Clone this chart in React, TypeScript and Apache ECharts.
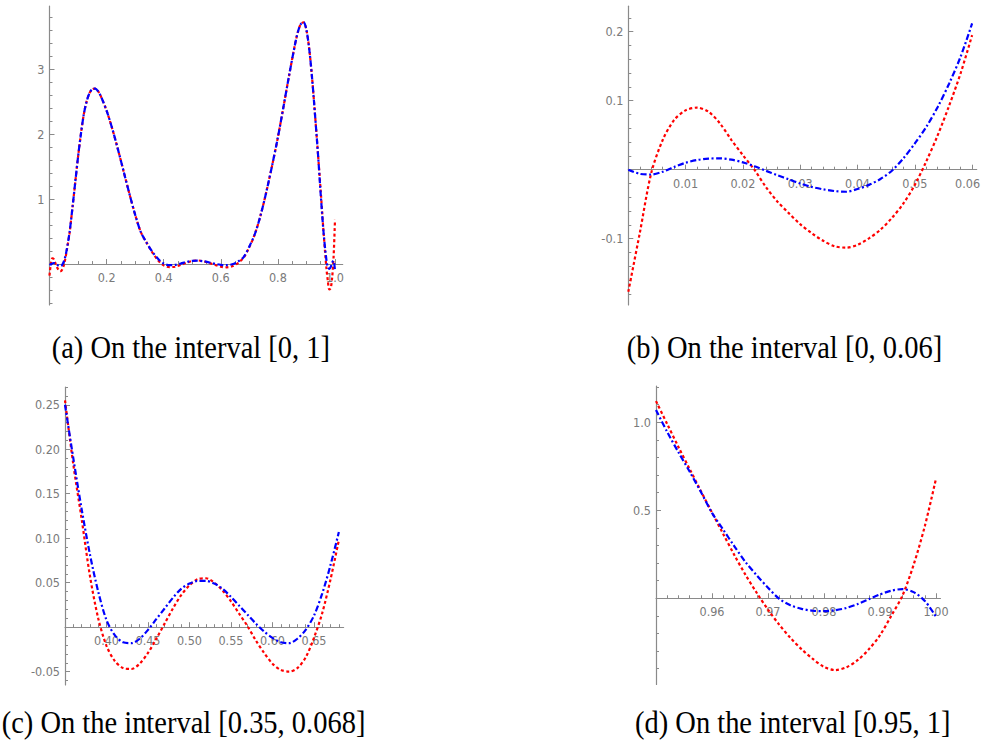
import React, { useEffect, useRef } from "react";
import * as echarts from "echarts";

// ---------- Panel (a): on [0, 1] ----------
const xA = [0, 0.005, 0.01, 0.015, 0.02, 0.025, 0.03, 0.035, 0.04, 0.045, 0.05, 0.055, 0.06, 0.07, 0.08, 0.09, 0.1, 0.11, 0.12, 0.13, 0.14, 0.15, 0.16, 0.17, 0.18, 0.2, 0.22, 0.24, 0.26, 0.28, 0.3, 0.32, 0.34, 0.36, 0.38, 0.4, 0.42, 0.44, 0.46, 0.48, 0.5, 0.52, 0.54, 0.56, 0.58, 0.6, 0.62, 0.64, 0.66, 0.68, 0.7, 0.72, 0.74, 0.76, 0.78, 0.8, 0.82, 0.84, 0.86, 0.87, 0.88, 0.89, 0.9, 0.91, 0.92, 0.93, 0.94, 0.95, 0.96, 0.97, 0.975, 0.98, 0.985, 0.99, 0.995, 1.0];
const redA = [-0.177, 0.01, 0.086, 0.076, 0.021, -0.036, -0.079, -0.106, -0.109, -0.079, -0.022, 0.072, 0.195, 0.47, 0.85, 1.25, 1.65, 2.0, 2.3, 2.5, 2.63, 2.69, 2.7, 2.66, 2.58, 2.36, 2.08, 1.76, 1.42, 1.08, 0.76, 0.49, 0.33, 0.18, 0.058, -0.021, -0.046, -0.041, -0.013, 0.021, 0.047, 0.055, 0.041, 0.015, -0.015, -0.041, -0.05, -0.034, 0.016, 0.098, 0.26, 0.47, 0.76, 1.12, 1.52, 1.95, 2.43, 2.92, 3.38, 3.57, 3.69, 3.72, 3.6, 3.3, 2.85, 2.3, 1.72, 1.12, 0.487, -0.065, -0.26, -0.39, -0.37, -0.21, 0.1, 0.68];
const blueA = [0, -0.007, 0.01, 0.016, 0.0106, -0.005, -0.02, -0.03, -0.028, -0.008, 0.038, 0.108, 0.212, 0.48, 0.85, 1.25, 1.65, 2.0, 2.3, 2.5, 2.63, 2.69, 2.7, 2.66, 2.58, 2.36, 2.08, 1.76, 1.42, 1.08, 0.76, 0.49, 0.33, 0.19, 0.082, 0.008, -0.017, -0.013, 0.009, 0.033, 0.049, 0.052, 0.043, 0.024, 0.004, -0.012, -0.018, -0.003, 0.038, 0.107, 0.27, 0.47, 0.76, 1.12, 1.52, 1.95, 2.43, 2.92, 3.38, 3.57, 3.69, 3.72, 3.6, 3.3, 2.85, 2.3, 1.72, 1.07, 0.485, 0.06, -0.05, -0.073, -0.045, 0.022, 0.047, -0.105];
const xLabelsA = [0.2, 0.4, 0.6, 0.8, 1.0];
const yLabelsA = [1, 2, 3];

// ---------- Panel (b): on [0, 0.06] ----------
const xB = [0, 0.002, 0.004, 0.006, 0.008, 0.01, 0.012, 0.014, 0.016, 0.018, 0.02, 0.022, 0.024, 0.026, 0.028, 0.03, 0.032, 0.034, 0.036, 0.038, 0.04, 0.042, 0.044, 0.046, 0.048, 0.05, 0.052, 0.054, 0.056, 0.058, 0.06];
const redB = [-0.177, -0.092, -0.005, 0.043, 0.072, 0.086, 0.09, 0.084, 0.067, 0.043, 0.021, 0.0, -0.025, -0.046, -0.063, -0.079, -0.092, -0.103, -0.111, -0.113, -0.109, -0.0995, -0.087, -0.07, -0.049, -0.022, 0.012, 0.05, 0.093, 0.14, 0.195];
const blueB = [0, -0.006, -0.007, -0.003, 0.004, 0.01, 0.014, 0.016, 0.0164, 0.0145, 0.0106, 0.005, -0.0015, -0.008, -0.014, -0.02, -0.025, -0.0285, -0.031, -0.032, -0.028, -0.022, -0.0135, -0.0015, 0.0164, 0.038, 0.062, 0.091, 0.125, 0.164, 0.212];
const xLabelsB = [0.01, 0.02, 0.03, 0.04, 0.05, 0.06];
const yLabelsB = [-0.1, 0.1, 0.2];

// ---------- Panel (c): on [0.35, 0.68] ----------
const xC = [0.35, 0.36, 0.37, 0.38, 0.39, 0.4, 0.41, 0.42, 0.43, 0.44, 0.45, 0.46, 0.47, 0.48, 0.49, 0.5, 0.51, 0.52, 0.53, 0.54, 0.55, 0.56, 0.57, 0.58, 0.59, 0.6, 0.61, 0.62, 0.63, 0.64, 0.65, 0.66, 0.67, 0.68];
const redC = [0.255, 0.183, 0.122, 0.058, 0.01, -0.021, -0.038, -0.046, -0.047, -0.041, -0.029, -0.013, 0.004, 0.021, 0.036, 0.047, 0.054, 0.055, 0.05, 0.041, 0.029, 0.015, 0.001, -0.015, -0.029, -0.041, -0.048, -0.05, -0.046, -0.034, -0.012, 0.016, 0.054, 0.098];
const blueC = [0.25, 0.19, 0.133, 0.082, 0.04, 0.008, -0.009, -0.017, -0.018, -0.013, -0.003, 0.009, 0.021, 0.033, 0.043, 0.049, 0.052, 0.052, 0.049, 0.043, 0.034, 0.024, 0.014, 0.004, -0.005, -0.012, -0.017, -0.018, -0.013, -0.003, 0.013, 0.038, 0.07, 0.107];
const xLabelsC = [0.4, 0.45, 0.5, 0.55, 0.6, 0.65];
const yLabelsC = [-0.05, 0.05, 0.1, 0.15, 0.2, 0.25];

// ---------- Panel (d): on [0.95, 1] ----------
const xD = [0.95, 0.952, 0.954, 0.956, 0.958, 0.96, 0.962, 0.964, 0.966, 0.968, 0.97, 0.972, 0.974, 0.976, 0.978, 0.98, 0.982, 0.984, 0.986, 0.988, 0.99, 0.992, 0.994, 0.996, 0.998, 1.0];
const redD = [1.12, 0.99, 0.86, 0.735, 0.61, 0.487, 0.365, 0.245, 0.132, 0.03, -0.065, -0.15, -0.225, -0.29, -0.345, -0.39, -0.408, -0.392, -0.352, -0.29, -0.21, -0.1, 0.015, 0.19, 0.41, 0.68];
const blueD = [1.07, 0.945, 0.83, 0.72, 0.605, 0.485, 0.39, 0.295, 0.205, 0.13, 0.06, -0.003, -0.04, -0.06, -0.071, -0.073, -0.068, -0.055, -0.033, -0.005, 0.022, 0.043, 0.052, 0.035, -0.015, -0.105];
const xLabelsD = [0.96, 0.97, 0.98, 0.99, 1.0];
const yLabelsD = [0.5, 1.0];

const captions = [
  "(a) On the interval [0, 1]",
  "(b) On the interval [0, 0.06]",
  "(c) On the interval [0.35, 0.068]",
  "(d) On the interval [0.95, 1]",
];

const PAGE_W = 981;
const AXIS_COLOR = "#8a8a8a";
const LABEL_COLOR = "#7a7a7a";
const LABEL_FONT = '"Liberation Sans Narrow", "DejaVu Sans Condensed", "Roboto Condensed", "Liberation Sans", sans-serif';
const LABEL_SIZE = 12.5;

function stepValues(min: number, max: number, step: number): number[] {
  const out: number[] = [];
  const k0 = Math.ceil(min / step - 1e-9);
  const k1 = Math.floor(max / step + 1e-9);
  for (let k = k0; k <= k1; k++) out.push(Math.round(k * step * 1e6) / 1e6);
  return out;
}

function zip(xs: number[], ys: number[]) {
  return xs.map((x, i) => [x, ys[i]]);
}

const panels = [
  { x: xA, red: redA, blue: blueA, xl: xLabelsA, yl: yLabelsA, xd: 1, yd: 0, xr: [0, 1.027], yr: [-0.63, 3.97], xs: 0.05, ys: 0.2, g: { left: 49.5, top: 6, width: 293.2, height: 299 } },
  { x: xB, red: redB, blue: blueB, xl: xLabelsB, yl: yLabelsB, xd: 2, yd: 1, xr: [0, 0.0608], yr: [-0.196, 0.237], xs: 0.002, ys: 0.02, g: { left: 628.3, top: 6.2, width: 348.4, height: 298.7 } },
  { x: xC, red: redC, blue: blueC, xl: xLabelsC, yl: yLabelsC, xd: 2, yd: 2, xr: [0.35, 0.6857], yr: [-0.065, 0.27], xs: 0.01, ys: 0.01, g: { left: 65, top: 387, width: 278.6, height: 298 } },
  { x: xD, red: redD, blue: blueD, xl: xLabelsD, yl: yLabelsD, xd: 2, yd: 1, xr: [0.95, 1.0008], yr: [-0.49, 1.206], xs: 0.002, ys: 0.1, g: { left: 656, top: 386, width: 284.5, height: 298.5 } },
];

const capPos = [
  [51.7, 347],
  [626.7, 347],
  [1.7, 722],
  [635, 722],
];

export default function App() {
  const ref = useRef<HTMLDivElement>(null);
  useEffect(() => {
    if (!ref.current) return;
    const chart = echarts.init(ref.current, undefined, { renderer: "svg" });

    const grid: any[] = [];
    const xAxis: any[] = [];
    const yAxis: any[] = [];
    const series: any[] = [];

    panels.forEach((p, i) => {
      grid.push({ ...p.g, containLabel: false, outerBoundsMode: "none" });
      // ECharts keeps labels of an on-zero axis at the grid edge: pull them up to the zero line
      const zeroOffset = (p.g.height * (0 - p.yr[0])) / (p.yr[1] - p.yr[0]);
      const labelStyle = { color: LABEL_COLOR, fontSize: LABEL_SIZE, fontFamily: LABEL_FONT };
      const mainX = {
        type: "value",
        gridIndex: i,
        position: "bottom",
        min: p.xr[0],
        max: p.xr[1],
        axisLine: { show: true, onZero: true, lineStyle: { color: AXIS_COLOR, width: 1.2 } },
        axisTick: { show: true, inside: true, length: 3, customValues: stepValues(p.xr[0], p.xr[1], p.xs), lineStyle: { color: AXIS_COLOR, width: 1 } },
        axisLabel: {
          show: true,
          customValues: p.xl,
          formatter: (v: number) => {
            const s = v.toFixed(p.xd);
            const px = p.g.left + (p.g.width * (v - p.xr[0])) / (p.xr[1] - p.xr[0]);
            // keep a label that would run past the page edge inside it
            return px + 12 > PAGE_W ? `{edge|${s}}` : s;
          },
          rich: { edge: { ...labelStyle, padding: [0, 9, 0, 0] } },
          ...labelStyle,
          margin: 7 - zeroOffset,
        },
        splitLine: { show: false },
      };
      const overX = {
        type: "value",
        gridIndex: i,
        position: "bottom",
        min: p.xr[0],
        max: p.xr[1],
        axisLine: { show: false, onZero: true },
        axisTick: { show: true, inside: true, length: 5, customValues: p.xl, lineStyle: { color: AXIS_COLOR, width: 1 } },
        axisLabel: { show: false },
        splitLine: { show: false },
      };
      const mainY = {
        type: "value",
        gridIndex: i,
        position: "left",
        min: p.yr[0],
        max: p.yr[1],
        axisLine: { show: true, onZero: true, lineStyle: { color: AXIS_COLOR, width: 1.2 } },
        axisTick: { show: true, inside: true, length: 3, customValues: stepValues(p.yr[0], p.yr[1], p.ys), lineStyle: { color: AXIS_COLOR, width: 1 } },
        axisLabel: {
          show: true,
          customValues: p.yl,
          formatter: (v: number) => v.toFixed(p.yd),
          ...labelStyle,
          margin: 5,
        },
        splitLine: { show: false },
      };
      const overY = {
        type: "value",
        gridIndex: i,
        position: "left",
        min: p.yr[0],
        max: p.yr[1],
        axisLine: { show: false, onZero: true },
        axisTick: { show: true, inside: true, length: 5, customValues: p.yl, lineStyle: { color: AXIS_COLOR, width: 1 } },
        axisLabel: { show: false },
        splitLine: { show: false },
      };
      xAxis.push(mainX, overX);
      yAxis.push(mainY, overY);

      series.push({
        type: "line",
        xAxisIndex: 2 * i,
        yAxisIndex: 2 * i,
        data: zip(p.x, p.red),
        symbol: "none",
        smooth: 0.3,
        lineStyle: { color: "#ff0000", width: 2.2, type: [3, 2.5], cap: "butt" },
        z: 3,
      });
      series.push({
        type: "line",
        xAxisIndex: 2 * i,
        yAxisIndex: 2 * i,
        data: zip(p.x, p.blue),
        symbol: "none",
        smooth: 0.3,
        lineStyle: { color: "#0000ff", width: 2.2, type: [6, 2.5, 2, 2.5], cap: "butt" },
        z: 4,
      });
    });

    const graphic = captions.map((c, i) => ({
      type: "text",
      x: capPos[i][0],
      y: capPos[i][1],
      scaleX: 0.89,
      style: {
        text: c,
        fill: "#000",
        fontSize: 32,
        fontFamily: '"Liberation Serif", "Times New Roman", serif',
        align: "left",
        verticalAlign: "middle",
      },
    }));

    chart.setOption({
      animation: false,
      backgroundColor: "#ffffff",
      grid,
      xAxis,
      yAxis,
      series,
      graphic,
    });
    return () => chart.dispose();
  }, []);

  return (
    <div
      ref={ref}
      style={{ position: "fixed", left: 0, top: 0, width: 981, height: 745, background: "#fff" }}
    />
  );
}
